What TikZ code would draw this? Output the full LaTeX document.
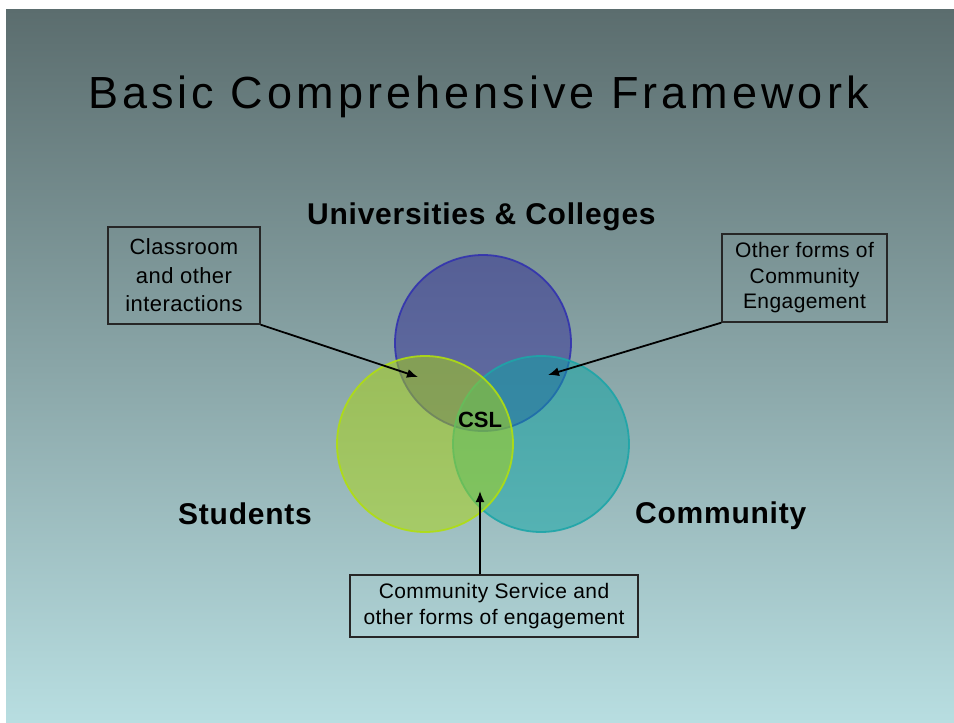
\documentclass[tikz,border=0pt]{standalone}
\usepackage{fontspec}
\setmainfont{Liberation Sans}
\newfontfamily\titlefam[LetterSpace=9]{Liberation Sans}
\newfontfamily\labelfam[LetterSpace=2.5]{Liberation Sans}
\newfontfamily\boxfam[LetterSpace=2]{Liberation Sans}
\usetikzlibrary{arrows.meta}
\definecolor{bgtop}{RGB}{91,109,110}
\definecolor{bgbot}{RGB}{184,222,225}
\definecolor{bluefill}{RGB}{50,44,150}
\definecolor{blueedge}{RGB}{50,50,175}
\definecolor{greenfill}{RGB}{172,214,15}
\definecolor{greenedge}{RGB}{176,222,16}
\definecolor{tealfill}{RGB}{12,166,166}
\definecolor{tealedge}{RGB}{30,165,168}
\tikzset{
  venn/.style={circle, minimum size=176pt, inner sep=0pt, line width=1.8pt, fill opacity=0.5, draw opacity=0.9},
  biglabel/.style={anchor=base west, inner sep=0pt, font=\labelfam\bfseries\fontsize{30}{36}\selectfont},
  infobox/.style={draw=black!85, line width=1.4pt, align=center, inner sep=0pt,
    font=\boxfam\fontsize{21}{28}\selectfont},
  pointer/.style={line width=1.8pt, -{Latex[length=11pt,width=9pt]}}
}
\begin{document}
\begin{tikzpicture}[x=1pt,y=-1pt]
\useasboundingbox (0,0) rectangle (954,723);
\fill[white] (0,0) rectangle (954,723);
\shade[top color=bgtop,bottom color=bgbot] (6,9) rectangle (954,723);

\node[anchor=base west, inner sep=0pt, font=\titlefam\fontsize{45}{54}\selectfont] (title) at (88,108) {Basic Comprehensive Framework};

\node[venn, draw=blueedge, fill=bluefill] (ucirc) at (483,343) {};
\node[venn, draw=tealedge, fill=tealfill] (ccirc) at (541,444) {};
\node[venn, draw=greenedge, fill=greenfill] (scirc) at (425,444) {};

\node[biglabel] (unis) at (307,224) {Universities \& Colleges};
\node[biglabel] (stud) at (178,524) {Students};
\node[biglabel] (comm) at (635,523) {Community};
\node[anchor=base, inner sep=0pt, font=\bfseries\fontsize{22}{26}\selectfont] (csl) at (480,427) {CSL};

\node[infobox, minimum width=152pt, minimum height=97pt, font=\boxfam\fontsize{22}{28.5}\selectfont] (lbox) at (184,275.5) {Classroom\\and other\\interactions};
\node[infobox, minimum width=165pt, minimum height=88pt, font=\boxfam\fontsize{21}{25.5}\selectfont] (rbox) at (804.5,278) {Other forms of\\Community\\Engagement};
\node[infobox, minimum width=288pt, minimum height=62pt, font=\boxfam\fontsize{21}{26}\selectfont] (bbox) at (494,606) {Community Service and\\other forms of engagement};

\coordinate (tl) at (418,377);
\coordinate (tr) at (548,375);
\coordinate (tb) at (480,491);

\draw[pointer] (lbox.south east) -- (tl);
\draw[pointer] (rbox.south west) -- (tr);
\draw[pointer] (tb |- bbox.north) -- (tb);
\end{tikzpicture}
\end{document}
